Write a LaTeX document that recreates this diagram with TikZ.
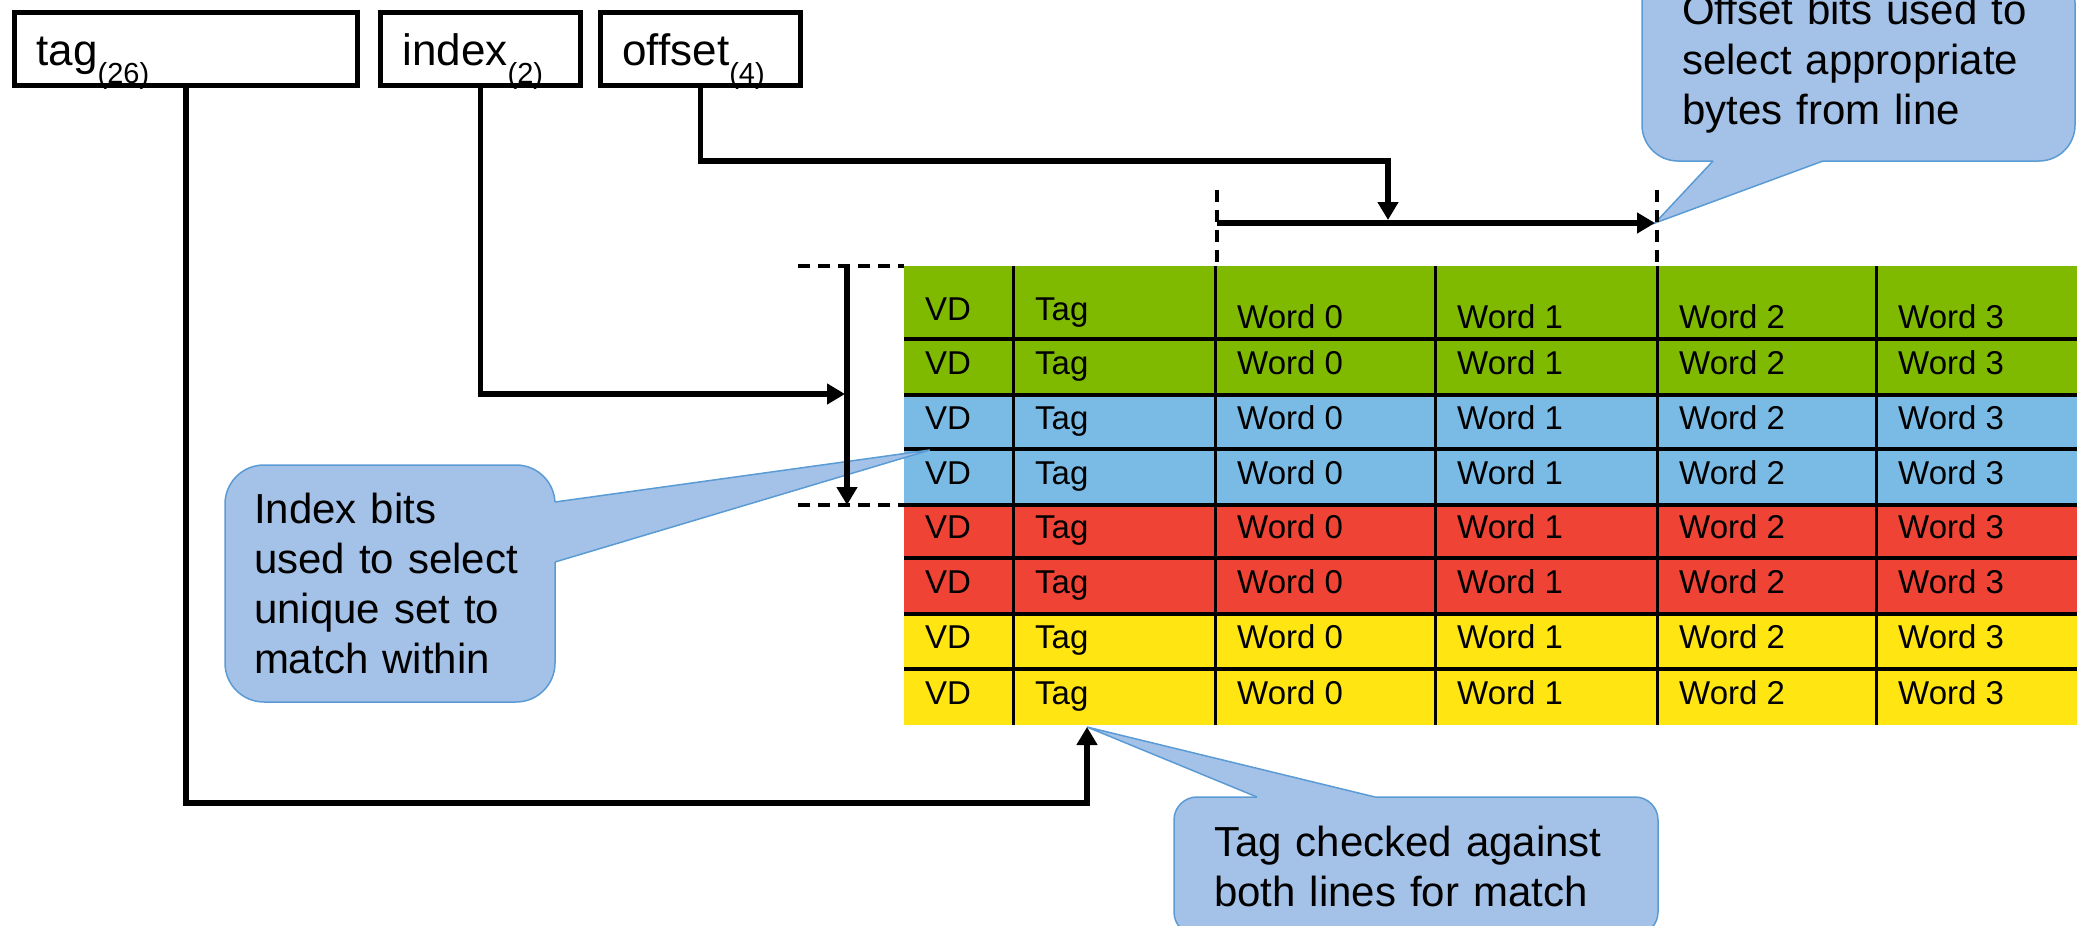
\documentclass[tikz,border=0pt]{standalone}
\usepackage{fontspec}
\setmainfont{Liberation Sans}
\usetikzlibrary{arrows.meta,calc,positioning}

\definecolor{setgreen}{RGB}{127,186,0}
\definecolor{setblue}{RGB}{122,187,230}
\definecolor{setred}{RGB}{239,67,54}
\definecolor{setyellow}{RGB}{255,229,18}
\definecolor{notefill}{RGB}{164,194,231}
\definecolor{noteedge}{RGB}{91,155,213}

\newcommand{\bitsub}[1]{\raisebox{-18pt}[0pt][0pt]{\fontsize{29}{30}\selectfont #1}}

\begin{document}
\begin{tikzpicture}[
		x=1pt, y=-1pt,
		>={Triangle[length=18pt,width=20pt]},
		field/.style={draw, line width=5pt, inner xsep=22pt, inner ysep=0pt, minimum height=73pt,
			text height=32pt, text depth=0pt, align=left, font=\fontsize{44}{50}\selectfont},
		cell/.style={anchor=base west, inner sep=0pt, font=\fontsize{33}{40}\selectfont},
		wire/.style={line width=5.5pt},
		guide/.style={line width=4pt, dash pattern=on 12pt off 8pt},
		note/.style={fill=notefill, draw=noteedge, line width=1.5pt, outer sep=0pt, inner sep=0pt,
			align=left, font=\fontsize{42}{50}\selectfont},
		pointer/.style={draw=noteedge, line width=1.5pt}
		]
		\useasboundingbox (0,0) rectangle (2085,926);
		
		% Address fields
		\node[field, minimum width=343pt, text width=299pt] (tag) at (186,49) {tag\bitsub{(26)}};
		\node[field, minimum width=200pt, text width=156pt] (index) at (480.5,49) {index\bitsub{(2)}};
		\node[field, minimum width=200pt, text width=156pt] (offset) at (700.5,49) {offset\bitsub{(4)}};
		
		% Cache lines
		\foreach \ya/\yb/\clr in {266/339/setgreen, 339/395/setgreen, 395/449/setblue, 449/505/setblue,
			505/558/setred, 558/614/setred, 614/669/setyellow, 669/725/setyellow}
		\fill[\clr] (904,\ya) rectangle (2077,\yb);
		\foreach \y in {339,395,449,505,558,614,669}
		\draw[line width=4.5pt] (904,\y) -- (2077,\y);
		\foreach \x in {1013,1215,1435,1657,1876}
		\draw[line width=3pt] (\x,266) -- (\x,725);
		
		\draw
		(904,266) coordinate (set-top)
		(904,505) coordinate (set-bot)
		(1087,727) coordinate (tagtap)
		(845,394) coordinate (idxtap)
		(1388,220) coordinate (offtap)
		(847,266) coordinate (setbr-t)
		(847,505) coordinate (setbr-b)
		(1217,223) coordinate (offbr-l)
		(1655,223) coordinate (offbr-r)
		(930,450) coordinate (idxtip);
		
		% Cell texts, first line is taller
		\node[cell] (vd-1) at (925,320) {VD};
		\node[cell] (tg-1) at (1035,320) {Tag};
		\foreach \x [count=\w from 0] in {1237,1457,1679,1898}
		\node[cell] (w\w-1) at (\x,328) {Word \w};
		\foreach \b [count=\r from 2] in {374,429,484,538,593,648,704} {
			\node[cell] (vd-\r) at (925,\b) {VD};
			\node[cell] (tg-\r) at (1035,\b) {Tag};
			\foreach \x [count=\w from 0] in {1237,1457,1679,1898}
			\node[cell] (w\w-\r) at (\x,\b) {Word \w};
		}
		
		% Callouts
		\node[note, rounded corners=36pt, minimum width=433pt, minimum height=194pt, text width=353pt]
		(offnote) at (1858.5,64) {Offset bits used to\\select appropriate\\bytes from line};
		\fill[notefill] ($(offnote.south west)+(71,-4)$) -- ($(offnote.south west)+(71,0)$) -- (offbr-r)
		-- ($(offnote.south west)+(181,0)$) -- ($(offnote.south west)+(181,-4)$) -- cycle;
		\draw[pointer] ($(offnote.south west)+(71,0)$) -- (offbr-r) -- ($(offnote.south west)+(181,0)$);
		
		\node[note, rounded corners=39pt, minimum width=330pt, minimum height=237pt, text width=272pt]
		(idxnote) at (390,583.5) {Index bits\\used to select\\unique set to\\match within};
		\fill[notefill] ($(idxnote.north east)+(-4,37)$) -- ($(idxnote.north east)+(0,37)$) -- (idxtip)
		-- ($(idxnote.north east)+(0,97)$) -- ($(idxnote.north east)+(-4,97)$) -- cycle;
		\draw[pointer] ($(idxnote.north east)+(0,37)$) -- (idxtip) -- ($(idxnote.north east)+(0,97)$);
		
		\node[note, rounded corners=23pt, minimum width=484pt, minimum height=138pt, text width=404pt]
		(tagnote) at (1416,866) {Tag checked against\\both lines for match};
		\fill[notefill] ($(tagnote.north west)+(83,4)$) -- ($(tagnote.north west)+(83,0)$) -- (tagtap)
		-- ($(tagnote.north west)+(201,0)$) -- ($(tagnote.north west)+(201,4)$) -- cycle;
		\draw[pointer] ($(tagnote.north west)+(83,0)$) -- (tagtap) -- ($(tagnote.north west)+(201,0)$);
		
		% Field connections
		\draw[wire,->] (tag.south) -- (tag.south |- 0,803) -| (tagtap);
		\draw[wire,->] (index.south) |- (idxtap);
		\draw[wire,->] (offset.south) -- (offset.south |- 0,161) -| (offtap);
		
		% Set and byte brackets
		\draw[wire,->] (setbr-t) -- (setbr-b);
		\draw[guide] (798,266) -- (set-top);
		\draw[guide] (798,505) -- (set-bot);
		\draw[wire,->] (offbr-l) -- (offbr-r);
		\draw[guide] (1217,190) -- (1217,266);
		\draw[guide] (1657,190) -- (1657,266);
\end{tikzpicture}
\end{document}
